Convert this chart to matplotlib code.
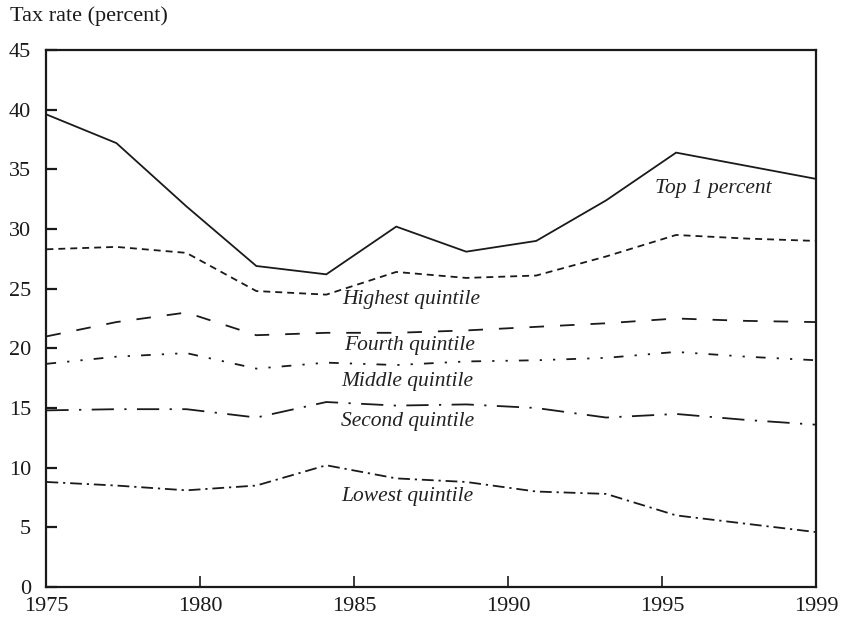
import numpy as np
import matplotlib
matplotlib.use('Agg')
import matplotlib.pyplot as plt

plt.rcParams['font.family'] = ['Liberation Serif', 'DejaVu Serif']
plt.rcParams['lines.scale_dashes'] = False

# effective tax rates (percent), 12 observations from 1975 to 1999
top1 = [39.6, 37.2, 31.9, 26.9, 26.2, 30.2, 28.1, 29.0, 32.4, 36.4, 35.3, 34.2]
highest = [28.3, 28.5, 28.0, 24.8, 24.5, 26.4, 25.9, 26.1, 27.7, 29.5, 29.2, 29.0]
fourth = [21.0, 22.2, 23.0, 21.1, 21.3, 21.3, 21.5, 21.8, 22.1, 22.5, 22.3, 22.2]
middle = [18.7, 19.3, 19.6, 18.3, 18.8, 18.6, 18.9, 19.0, 19.2, 19.7, 19.3, 19.0]
second = [14.8, 14.9, 14.9, 14.2, 15.5, 15.2, 15.3, 15.0, 14.2, 14.5, 14.0, 13.6]
lowest = [8.8, 8.5, 8.1, 8.5, 10.2, 9.1, 8.8, 8.0, 7.8, 6.0, 5.3, 4.6]

tick_years = [1975, 1980, 1985, 1990, 1995]
tick_labels = ['1975', '1980', '1985', '1990', '1995', '1999']

series = [
    (top1, 'Top 1 percent', None, 8.7, 33.4),
    (highest, 'Highest quintile', (0, (5, 3.6)), 4.23, 24.1),
    (fourth, 'Fourth quintile', (0, (10.5, 11.5)), 4.26, 20.2),
    (middle, 'Middle quintile', (0, (7, 8, 1.6, 8, 1.6, 8)), 4.21, 17.2),
    (second, 'Second quintile', (0, (16, 7.5, 1.6, 7.5)), 4.21, 13.9),
    (lowest, 'Lowest quintile', (0, (8.5, 3.5, 1.6, 3.5)), 4.21, 7.6),
]

fig = plt.figure(figsize=(8.41, 6.22), dpi=100)
ax = fig.add_axes([0.0552, 0.0563, 0.9151, 0.8633])

x = np.arange(len(top1))
for vals, name, ls, tx, ty in series:
    if ls is None:
        ax.plot(x, vals, color='#1a1a1a', lw=1.3, solid_joinstyle='miter')
    else:
        ax.plot(x, vals, color='#1a1a1a', lw=1.3, linestyle=ls, dash_capstyle='butt')
    ax.text(tx, ty, name, fontsize=15.5, style='italic', color='#222222',
            ha='left', va='center')

ax.set_xlim(0, len(top1) - 1)
ax.set_ylim(0, 45)

# axis drawn with equal spacing per observation; ticks placed on that scale
tick_pos = [(yr - 1975) / 25 * (len(top1) - 1) for yr in tick_years] + [len(top1) - 1]
ax.set_xticks(tick_pos)
ax.set_xticklabels(tick_labels)
ax.set_yticks(range(0, 46, 5))

for sp in ax.spines.values():
    sp.set_linewidth(1.6)
    sp.set_color('#1a1a1a')

ax.tick_params(axis='y', direction='in', length=8, width=1.6, pad=11,
               labelsize=16, colors='#1a1a1a')
ax.tick_params(axis='x', direction='in', length=8, width=1.2, pad=7,
               labelsize=16, colors='#1a1a1a')

fig.text(10 / 841, 1 - 16 / 622, 'Tax rate (percent)', fontsize=16,
         color='#1a1a1a', ha='left', va='center')

fig.savefig('out.png', dpi=100)
